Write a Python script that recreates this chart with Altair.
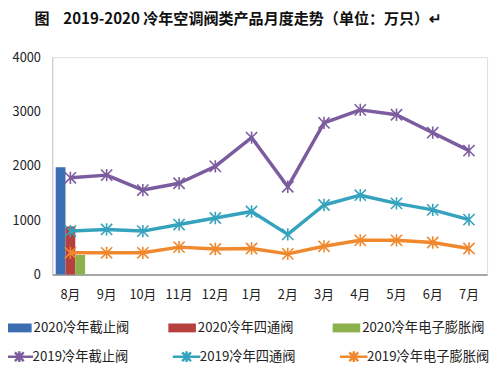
import altair as alt
import pandas as pd

months = ["8月", "9月", "10月", "11月", "12月", "1月", "2月", "3月", "4月", "5月", "6月", "7月"]
s2019_stop = [1780, 1830, 1555, 1680, 1990, 2520, 1615, 2790, 3030, 2940, 2610, 2280]
s2019_four = [800, 830, 800, 920, 1040, 1160, 740, 1280, 1460, 1310, 1190, 1010]
s2019_eev = [400, 400, 400, 505, 470, 480, 380, 520, 630, 630, 590, 480]

bar_month = "8月"
s2020_values = [1975, 885, 360]

bar_names = ["2020冷年截止阀", "2020冷年四通阀", "2020冷年电子膨胀阀"]
line_names = ["2019冷年截止阀", "2019冷年四通阀", "2019冷年电子膨胀阀"]
bar_colors = ["#3b6db3", "#b5403d", "#8db14c"]
line_colors = ["#7b5c9e", "#35a3bd", "#f0892e"]

title_text = "图\u00a0\u00a0\u00a0\u00a02019-2020 冷年空调阀类产品月度走势（单位：万只）↵"

FONT = "Noto Sans CJK SC"

bar_df = pd.DataFrame({"month": [bar_month] * 3, "series": bar_names, "value": s2020_values})
rows = []
for name, vals in zip(line_names, [s2019_stop, s2019_four, s2019_eev]):
    for m, v in zip(months, vals):
        rows.append({"month": m, "series": name, "value": v})
line_df = pd.DataFrame(rows)

star_path = "M-1,-1L1,1M-1,1L1,-1M0,-1.1L0,1.1"
rect_path = "M-1.4,-0.45H1.4V0.45H-1.4Z"
legend_line_path = "M-1.4,0H1.4M-0.45,-0.45L0.45,0.45M-0.45,0.45L0.45,-0.45M0,-0.55V0.55"

x = alt.X(
    "month:N",
    sort=months,
    scale=alt.Scale(domain=months, paddingInner=0, paddingOuter=0),
    axis=alt.Axis(title=None, labelAngle=0, ticks=False, domainColor="#a6a6a6",
                  domainWidth=2, labelFontSize=13, labelPadding=14, labelColor="#222",
                  labelFont=FONT),
)
y = alt.Y(
    "value:Q",
    scale=alt.Scale(domain=[0, 4000], nice=False),
    axis=alt.Axis(title=None, values=[0, 1000, 2000, 3000, 4000], format="d", grid=False,
                  ticks=False, domainColor="#c8c8c8", labelPadding=12, labelFontSize=13,
                  labelColor="#222", labelFont=FONT),
)

legend_common = dict(
    title=None, orient="none", legendX=-45, columns=3, direction="horizontal",
    symbolSize=400, labelFontSize=13.5, labelFont=FONT, labelColor="#222",
    gridAlign="all", labelLimit=200,
)
bar_legend = alt.Legend(legendY=265, symbolType=rect_path, symbolStrokeWidth=0,
                        columnPadding=12, labelOffset=6, **legend_common)
line_legend = alt.Legend(legendY=293, symbolType=legend_line_path, symbolStrokeWidth=2.5,
                         symbolFillColor="transparent", columnPadding=12, labelOffset=2,
                         **legend_common)

stroke_enc = alt.Stroke("series:N", scale=alt.Scale(domain=line_names, range=line_colors),
                        legend=line_legend)

bars = alt.Chart(bar_df).mark_bar().encode(
    x=x,
    xOffset=alt.XOffset("series:N", sort=bar_names,
                        scale=alt.Scale(domain=bar_names, paddingOuter=0.35, paddingInner=0)),
    y=y,
    fill=alt.Fill("series:N", scale=alt.Scale(domain=bar_names, range=bar_colors), legend=bar_legend),
)

lines = alt.Chart(line_df).mark_line(strokeWidth=3.5, strokeJoin="round").encode(
    x=x, y=y, stroke=stroke_enc,
)
points = alt.Chart(line_df).mark_point(shape=star_path, size=130, filled=False,
                                       strokeWidth=1.6, opacity=1).encode(
    x=x, y=y, stroke=stroke_enc,
)

chart = alt.layer(bars, lines, points).properties(
    width=442,
    height=221,
    padding={"left": 45, "top": 47, "right": 5, "bottom": 91},
    autosize=alt.AutoSizeParams(type="none"),
    title=alt.TitleParams(title_text, anchor="start", frame="bounds", fontSize=15.3,
                          fontWeight="bold", font=FONT, color="#111", dx=27, offset=24,
                          limit=480),
).configure_view(stroke=None).configure(background="white")

chart.save("out.html", embed_options={"renderer": "svg", "actions": False})
